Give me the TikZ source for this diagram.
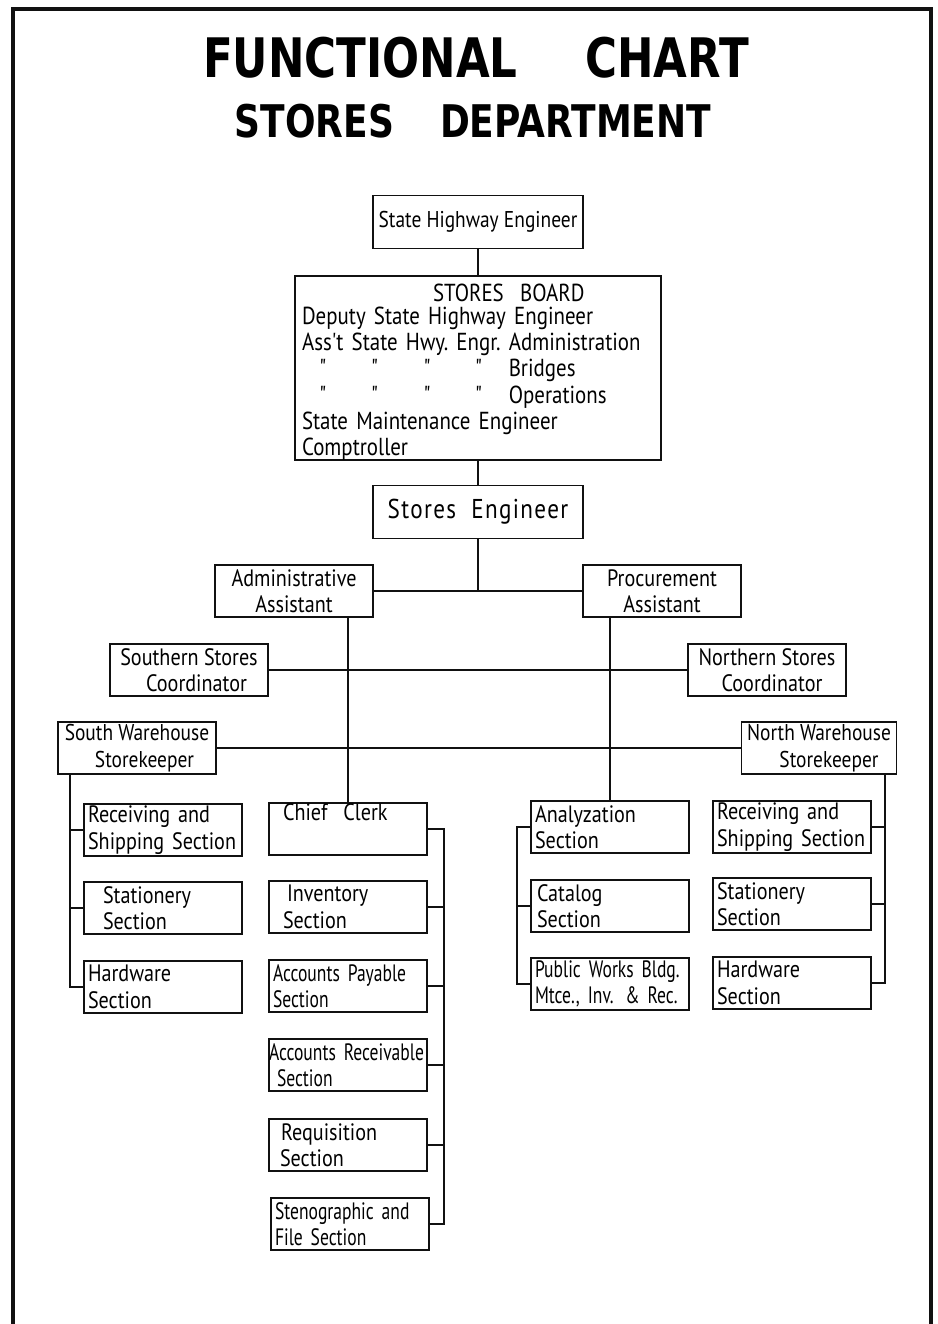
\documentclass[tikz,border=0pt]{standalone}
\usepackage{fontspec}
\setmainfont{PT Sans}
\newfontfamily\handfont{PT Sans}[FakeStretch=0.85]
\newfontfamily\narrowhand{PT Sans}[FakeStretch=0.74]
\newfontfamily\titlefont{DejaVu Sans}[FakeStretch=0.8]
\usetikzlibrary{positioning, calc}
\usepackage{xcolor}
\definecolor{ChartInk}{HTML}{111111}
\tikzset{
    % Box styles - plain sharp rectangles
    chartbox/.style={
        rectangle,
        draw=ChartInk,
        line width=1.1pt,
        minimum width=3.16cm,
        minimum height=1.04cm,
        inner xsep=0.08cm,
        inner ysep=0pt,
        font=\handfont\fontsize{13.5}{15}\selectfont,
        align=center
    },
    sectionbox/.style={
        chartbox,
        text width=3.0cm,
        align=left
    },
    narrowbox/.style={
        sectionbox,
        font=\narrowhand\fontsize{13.5}{15}\selectfont
    },
    headbox/.style={
        chartbox,
        minimum width=4.2cm,
        minimum height=1.06cm,
        font=\handfont\fontsize{13}{15}\selectfont
    },
    boardbox/.style={
        chartbox,
        minimum width=7.32cm,
        minimum height=3.68cm,
        inner xsep=0.14cm,
        inner ysep=-3pt,
        text width=7.04cm,
        align=left,
        font=\handfont\fontsize{14}{15}\selectfont
    },
    % Line styles - straight lines only
    link/.style={
        line width=1.1pt,
        draw=ChartInk
    },
    frame/.style={
        line width=1.8pt,
        draw=ChartInk
    }
}

\begin{document}
\begin{tikzpicture}[x=0.02cm, y=-0.02cm]
    \useasboundingbox (0,0) rectangle (937,1324);
    \draw[frame] (13,1324) -- (13,9) -- (931,9) -- (931,1324);

    % Title
    \node[font=\titlefont\bfseries\fontsize{31}{31}\selectfont] (title) at (476,58) {FUNCTIONAL\hspace{1.36cm}CHART};
    \node[font=\titlefont\bfseries\fontsize{25.6}{26}\selectfont] (subtitle) at (473,121) {STORES\hspace{0.92cm}DEPARTMENT};

    % Top of the chart
    \node[headbox] (she) at (478,222) {State Highway Engineer};
    \node[boardbox] (board) at (478,368) {%
        \begin{tabular}{@{}c@{\ }c@{\ }c@{\ }c@{\ }l@{}}
            \multicolumn{5}{@{}c@{}}{\rule{0pt}{16.5pt}\hspace{1.5cm}STORES\ \ BOARD}\\[-2pt]
            \multicolumn{5}{@{}l@{}}{Deputy State Highway Engineer}\\
            Ass't & State & Hwy. & Engr. & Administration\\
            " & " & " & " & Bridges\\
            " & " & " & " & Operations\\
            \multicolumn{5}{@{}l@{}}{State\ Maintenance\ Engineer}\\
            \multicolumn{5}{@{}l@{}}{Comptroller}
        \end{tabular}};
    \node[headbox, font=\handfont\fontsize{15.5}{17}\selectfont\addfontfeature{LetterSpace=5}] (se) at (478,512) {Stores\ \ Engineer};

    % Assistants and coordinators
    \node[chartbox] (admin) at (294,591) {Administrative\\Assistant};
    \node[chartbox] (proc) at (662,591) {Procurement\\Assistant};
    \node[chartbox] (scoord) at (189,670) {Southern Stores\\\hspace*{0.3cm}Coordinator};
    \node[chartbox] (ncoord) at (767,670) {Northern Stores\\\hspace*{0.2cm}Coordinator};
    \node[chartbox, font=\handfont\fontsize{13}{15}\selectfont] (swh) at (137,748) {South Warehouse\\\hspace*{0.3cm}Storekeeper};
    \node[chartbox, minimum width=3.1cm, font=\handfont\fontsize{13}{15}\selectfont] (nwh) at (819,748) {North Warehouse\\\hspace*{0.4cm}Storekeeper};

    % South warehouse sections
    \node[sectionbox] (srecv) at (163,830) {Receiving and\\Shipping Section};
    \node[sectionbox] (sstat) at (163,908) {\hspace*{0.3cm}Stationery\\\hspace*{0.3cm}Section};
    \node[sectionbox] (shard) at (163,987) {Hardware\\Section};

    % Chief clerk and sections
    \node[sectionbox] (cc) at (348,829) {\hspace*{0.2cm}Chief\ \ Clerk\\\strut};
    \node[sectionbox] (inv) at (348,907) {\hspace*{0.28cm}Inventory\\\hspace*{0.2cm}Section};
    \node[narrowbox] (apay) at (348,986) {\mbox{Accounts Payable}\\Section};
    \node[narrowbox] (arec) at (348,1065) {\hspace*{-0.08cm}\mbox{Accounts Receivable}\\\hspace*{0.08cm}Section};
    \node[sectionbox] (reqn) at (348,1145) {\hspace*{0.16cm}Requisition\\\hspace*{0.14cm}Section};
    \node[narrowbox] (sten) at (350,1224) {\mbox{Stenographic and}\\File Section};

    % Procurement sections
    \node[sectionbox] (ana) at (610,827) {Analyzation\\Section};
    \node[sectionbox] (cat) at (610,906) {\hspace*{0.04cm}Catalog\\\hspace*{0.04cm}Section};
    \node[narrowbox] (pw) at (610,984) {\mbox{Public Works Bldg.}\\\mbox{Mtce., Inv. \& Rec.}};

    % North warehouse sections
    \node[sectionbox] (nrecv) at (792,827) {Receiving and\\\mbox{Shipping Section}};
    \node[sectionbox] (nstat) at (792,904) {Stationery\\Section};
    \node[sectionbox] (nhard) at (792,983) {Hardware\\Section};

    % Trunk lines
    \coordinate (s trunk) at (70,0);
    \coordinate (c trunk) at (444,0);
    \coordinate (a trunk) at (517,0);
    \coordinate (n trunk) at (885,0);

    \draw[link] (she) -- (board);
    \draw[link] (board) -- (se);
    \draw[link] (admin) -- (proc);
    \draw[link] (se) -- (se |- admin);
    \draw[link] (cc.north |- admin.south) -- (cc);
    \draw[link] (ana.north |- proc.south) -- (ana);
    \draw[link] (scoord) -- (ncoord);
    \draw[link] (swh) -- (nwh);

    \draw[link] (s trunk |- swh.south) |- (shard);
    \draw[link] (srecv.west) -- (srecv.west -| s trunk);
    \draw[link] (sstat.west) -- (sstat.west -| s trunk);

    \draw[link] (cc) -| (c trunk |- sten.east) -- (sten);
    \draw[link] (inv.east) -- (inv.east -| c trunk);
    \draw[link] (apay.east) -- (apay.east -| c trunk);
    \draw[link] (arec.east) -- (arec.east -| c trunk);
    \draw[link] (reqn.east) -- (reqn.east -| c trunk);

    \draw[link] (ana) -| (a trunk |- pw.west) -- (pw);
    \draw[link] (cat.west) -- (cat.west -| a trunk);

    \draw[link] (n trunk |- nwh.south) |- (nhard);
    \draw[link] (nrecv.east) -- (nrecv.east -| n trunk);
    \draw[link] (nstat.east) -- (nstat.east -| n trunk);
\end{tikzpicture}
\end{document}
